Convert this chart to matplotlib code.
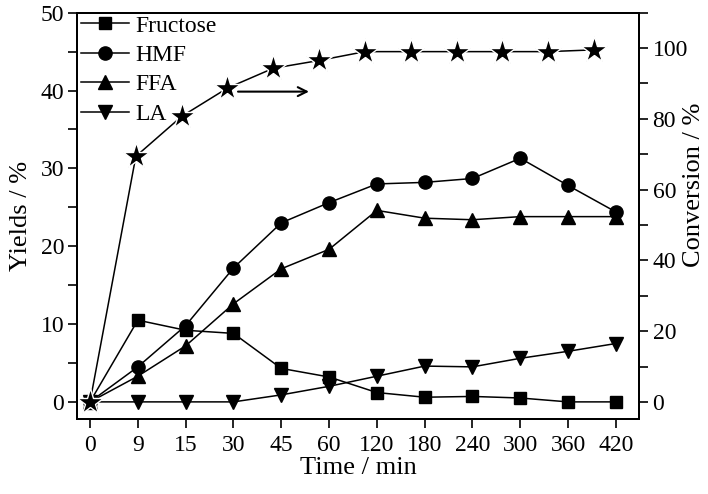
import matplotlib
matplotlib.use("Agg")
import matplotlib.pyplot as plt
from matplotlib.ticker import MultipleLocator

plt.rcParams['font.family'] = ['Liberation Serif', 'DejaVu Serif']
plt.rcParams['font.size'] = 17

# --- data --------------------------------------------------------
times = ["0", "9", "15", "30", "45", "60", "120", "180", "240", "300", "360", "420"]
fructose = [0, 10.5, 9.2, 8.8, 4.3, 3.2, 1.2, 0.6, 0.7, 0.5, 0, 0]
hmf = [0, 4.5, 9.8, 17.2, 23.0, 25.6, 28.0, 28.2, 28.7, 31.3, 27.8, 24.4]
ffa = [0, 3.3, 7.2, 12.6, 17.1, 19.6, 24.6, 23.6, 23.4, 23.8, 23.8, 23.8]
la = [0, 0, 0, 0, 0.9, 2.0, 3.3, 4.6, 4.5, 5.6, 6.5, 7.5]
conversion = [0, 69.4, 80.7, 88.7, 94.3, 96.5, 99.0, 99.0, 99.0, 99.0, 99.0, 99.5]

idx = list(range(len(times)))

fig = plt.figure(figsize=(7.08, 4.94), dpi=100)
ax = fig.add_axes([0.1092, 0.1518, 0.7938, 0.8225])
ax2 = ax.twinx()
ax3 = ax2.twiny()   # stars sit on a slightly compressed x scale in the original

line_kw = dict(color='k', lw=1.1)
ax.plot(idx, fructose, marker='s', ms=8.5, label='Fructose', **line_kw)
ax.plot(idx, hmf, marker='o', ms=9.5, label='HMF', **line_kw)
ax.plot(idx, ffa, marker='^', ms=10, label='FFA', **line_kw)
ax.plot(idx, la, marker='v', ms=10, label='LA', **line_kw)

# white-edged stars give the small gaps in the line seen in the original
ax3.plot(idx, conversion, marker='*', ms=20, mec='w', mew=1.0, mfc='k', **line_kw)
ax3.annotate('', xy=(4.84, 87.7), xytext=(3.17, 87.7),
             arrowprops=dict(arrowstyle='->', lw=1.5, color='k', mutation_scale=16))

# --- axes --------------------------------------------------------
ax.set_xlim(-0.266, 11.49)
ax.set_ylim(-2.2, 50)
ax2.set_ylim(-4.8, 110)
ax3.set_xlim(-0.277, 11.99)
ax3.tick_params(top=False, labeltop=False)

ax.set_xticks(idx)
ax.set_xticklabels(times)
ax.yaxis.set_major_locator(MultipleLocator(10))
ax.yaxis.set_minor_locator(MultipleLocator(5))
ax2.set_yticks([0, 20, 40, 60, 80, 100])
ax2.yaxis.set_minor_locator(MultipleLocator(10))

for a in (ax, ax2):
    a.tick_params(which='both', direction='out', length=6.5, width=1.2, pad=3)
ax.tick_params(axis='x', pad=5)
for a in (ax, ax2, ax3):
    for s in a.spines.values():
        s.set_linewidth(1.4)

ax.set_xlabel('Time / min', fontsize=19, labelpad=1)
ax.set_ylabel('Yields / %', fontsize=19, labelpad=6)
ax2.set_ylabel('Conversion / %', fontsize=19, ha='center', va='center')
ax2.yaxis.set_label_coords(1.097, 0.576)

ax.legend(loc='upper left', frameon=False, bbox_to_anchor=(-0.022, 1.035),
          handlelength=2.0, handletextpad=0.3, labelspacing=0.335, borderpad=0.2,
          fontsize=17)

fig.savefig('out.png', dpi=100)
